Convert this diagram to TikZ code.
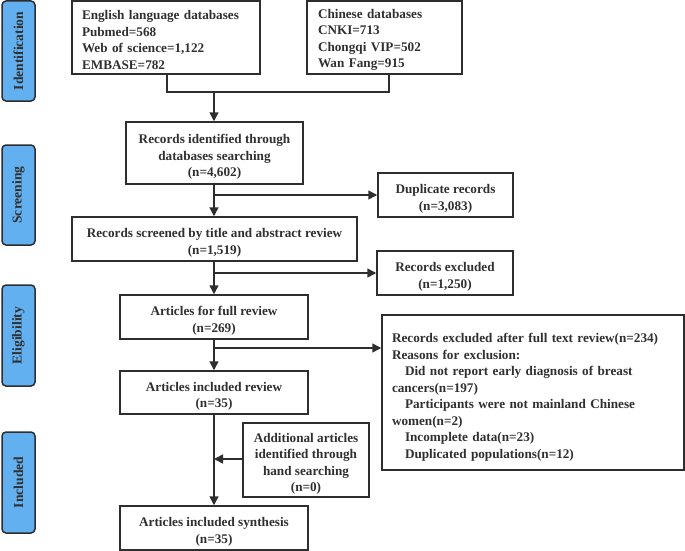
\documentclass[tikz,border=0pt]{standalone}
\usepackage{fontspec}
\setmainfont{Liberation Serif}
\usetikzlibrary{arrows.meta,calc}
\definecolor{ln}{HTML}{2E2E2E}
\definecolor{tx}{HTML}{303030}
\definecolor{phase}{HTML}{62B0F0}
\begin{document}
\begin{tikzpicture}[x=1pt,y=-1pt,
  every node/.style={font=\fontsize{13.2}{16.5}\selectfont\bfseries, text=tx},
  box/.style={draw=ln, line width=1.5pt, fill=white, inner sep=0pt},
  txt/.style={inner sep=0pt, align=center},
  ltxt/.style={inner sep=0pt, align=left},
  phasebox/.style={draw=ln, line width=1.5pt, fill=phase, rounded corners=4pt, inner sep=0pt,
    minimum width=33pt, minimum height=100pt},
  phasetxt/.style={rotate=90, font=\fontsize{13.6}{16}\selectfont\bfseries},
  conn/.style={draw=ln, line width=1.5pt},
  arr/.style={conn, -{Triangle[length=9pt,width=9pt]}}
]
\useasboundingbox (0,0) rectangle (685,551);

% phase labels
\node[phasebox] (pid) at (18.5,51) {};
\node[phasetxt] (tid) at (pid.center) {Identification};
\node[phasebox] (psc) at (18.5,195) {};
\node[phasetxt] (tsc) at (psc.center) {Screening};
\node[phasebox, minimum height=101pt] (pel) at (18.5,335.5) {};
\node[phasetxt] (tel) at (pel.center) {Eligibility};
\node[phasebox, minimum height=101pt] (pin) at (18.5,482.5) {};
\node[phasetxt] (tin) at (pin.center) {Included};

% boxes
\node[box, minimum width=188pt, minimum height=73pt] (eng) at (166,37.5) {};
\node[ltxt, text width=168pt] (engt) at ([yshift=-2.5pt]eng.center)
  {English language databases\\Pubmed=568\\Web of science=1,122\\EMBASE=782};
\node[box, minimum width=155pt, minimum height=73pt] (chn) at (384.5,37.5) {};
\node[ltxt, text width=133pt] (chnt) at ([yshift=-2.5pt]chn.center)
  {Chinese databases\\CNKI=713\\Chongqi VIP=502\\Wan Fang=915};
\node[box, minimum width=177pt, minimum height=62pt] (rid) at (214.5,153) {};
\node[txt] (ridt) at ([yshift=-4pt]rid.center)
  {Records identified through\\databases searching\\(n=4,602)};
\node[box, minimum width=135pt, minimum height=44pt] (dup) at (445.5,195) {};
\node[txt] (dupt) at ([yshift=-4pt]dup.center) {Duplicate records\\(n=3,083)};
\node[box, minimum width=285pt, minimum height=44pt] (rsc) at (214.5,239) {};
\node[txt] (rsct) at ([yshift=-4pt]rsc.center)
  {Records screened by title and abstract review\\(n=1,519)};
\node[box, minimum width=136pt, minimum height=44pt] (rex) at (445,273) {};
\node[txt] (rext) at ([yshift=-4pt]rex.center) {Records excluded\\(n=1,250)};
\node[box, minimum width=188pt, minimum height=44pt] (afr) at (214,317) {};
\node[txt] (afrt) at ([yshift=-4pt]afr.center) {Articles for full review\\(n=269)};
\node[box, minimum width=302pt, minimum height=155pt] (exf) at (533,392.5) {};
\node[ltxt, text width=282pt] (exft) at ([yshift=-5pt]exf.center)
  {Records excluded after full text review(n=234)\\
   Reasons for exclusion:\\
   \hspace*{13pt}Did not report early diagnosis of breast\\
   cancers(n=197)\\
   \hspace*{13pt}Participants were not mainland Chinese\\
   women(n=2)\\
   \hspace*{13pt}Incomplete data(n=23)\\
   \hspace*{13pt}Duplicated populations(n=12)};
\node[box, minimum width=188pt, minimum height=43pt] (air) at (214,392.5) {};
\node[txt] (airt) at ([yshift=-4pt]air.center) {Articles included review\\(n=35)};
\node[box, minimum width=126pt, minimum height=74pt] (add) at (306,460) {};
\node[txt] (addt) at ([yshift=-4pt]add.center)
  {Additional articles\\identified through\\hand searching\\(n=0)};
\node[box, minimum width=188pt, minimum height=44pt] (ais) at (214,528) {};
\node[txt] (aist) at ([yshift=-4pt]ais.center) {Articles included synthesis\\(n=35)};

% connectors
\coordinate (j1) at (214,92);
\coordinate (eb) at (167,74);
\coordinate (cb) at (389,74);
\draw[conn] (eng.south -| eb) |- (j1) -| (chn.south -| cb);
\draw[arr] (j1) -- (rid.north -| j1);

\coordinate (b1) at (214,195);
\draw[arr] (rid.south -| b1) -- (rsc.north -| b1);
\draw[arr] (b1) -- (dup.west);

\coordinate (b2) at (214,273);
\draw[arr] (rsc.south -| b2) -- (afr.north -| b2);
\draw[arr] (b2) -- (rex.west);

\coordinate (b3) at (214,348);
\draw[arr] (afr.south -| b3) -- (air.north -| b3);
\draw[arr] (b3) -- (b3 -| exf.west);

\coordinate (b4) at (214,459);
\draw[arr] (air.south -| b4) -- (ais.north -| b4);
\draw[arr] (add.west |- b4) -- (b4);
\end{tikzpicture}
\end{document}
